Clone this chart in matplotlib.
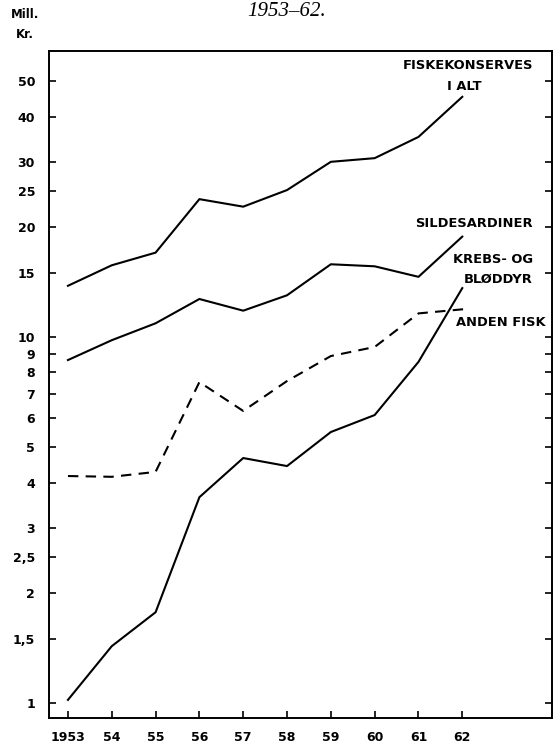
import numpy as np
import matplotlib.pyplot as plt

years = [1953, 1954, 1955, 1956, 1957, 1958, 1959, 1960, 1961, 1962]
year_labels = ['1953', '54', '55', '56', '57', '58', '59', '60', '61', '62']

i_alt = [13.8, 15.7, 17.0, 23.8, 22.7, 25.2, 30.1, 30.8, 35.2, 45.3]
sildesardiner = [8.65, 9.8, 10.9, 12.7, 11.8, 13.0, 15.8, 15.6, 14.6, 18.8]
anden_fisk = [4.17, 4.15, 4.28, 7.53, 6.28, 7.58, 8.87, 9.39, 11.6, 11.9]
krebs = [1.02, 1.43, 1.77, 3.65, 4.67, 4.44, 5.5, 6.12, 8.55, 13.6]

yticks = [1, 1.5, 2, 2.5, 3, 4, 5, 6, 7, 8, 9, 10, 15, 20, 25, 30, 40, 50]
ytick_labels = ['1', '1,5', '2', '2,5', '3', '4', '5', '6', '7', '8', '9', '10',
                '15', '20', '25', '30', '40', '50']

fig = plt.figure(figsize=(5.56, 7.46), dpi=100)
ax = fig.add_axes([0.088, 0.0375, 0.905, 0.894])

lw = 1.5
ax.plot(years, i_alt, color='k', lw=lw)
ax.plot(years, sildesardiner, color='k', lw=lw)
ax.plot(years, krebs, color='k', lw=lw)
ax.plot(years + [1962.08], anden_fisk + [11.9], color='k', lw=lw, dashes=(5, 3.5))

ax.set_yscale('log')
ax.set_ylim(0.91, 60.4)
ax.set_xlim(1952.566, 1964.05)

ax.set_yticks(yticks)
ax.set_yticklabels(ytick_labels, fontweight='bold', fontsize=9)
ax.minorticks_off()
ax.set_xticks(years)
ax.set_xticklabels(year_labels, fontweight='bold', fontsize=9)

ax.tick_params(axis='y', direction='in', length=5, width=1.2, pad=10,
               right=True, left=True)
ax.tick_params(axis='x', direction='in', length=5, width=1.2, pad=9)
for sp in ax.spines.values():
    sp.set_linewidth(1.4)

lab = dict(fontweight='bold', fontsize=9.4, ha='right', va='center',
           transform=ax.transAxes)
def axpos(xp, yp):
    return (xp - 49) / 503, (718 - yp) / 667

x, y = axpos(533, 65)
ax.text(x, y, 'FISKEKONSERVES', **lab)
x, y = axpos(482, 86)
ax.text(x, y, 'I ALT', **lab)
x, y = axpos(533, 223)
ax.text(x, y, 'SILDESARDINER', **lab)
x, y = axpos(533, 259)
ax.text(x, y, 'KREBS- OG', **lab)
x, y = axpos(533, 279)
ax.text(x, y, 'BLØDDYR', **lab)
x, y = axpos(545, 322)
ax.text(x, y, 'ANDEN FISK', **lab)

fig.text(25 / 556, 1 - 15 / 746, 'Mill.', fontsize=8.5, fontweight='bold',
         ha='center', va='center')
fig.text(25 / 556, 1 - 34 / 746, 'Kr.', fontsize=8.5, fontweight='bold',
         ha='center', va='center')
fig.text(287 / 556, 1 - 11 / 746, '1953–62.', fontsize=15, style='italic',
         family='Liberation Serif', ha='center', va='center')

fig.savefig('out.png', dpi=100)
